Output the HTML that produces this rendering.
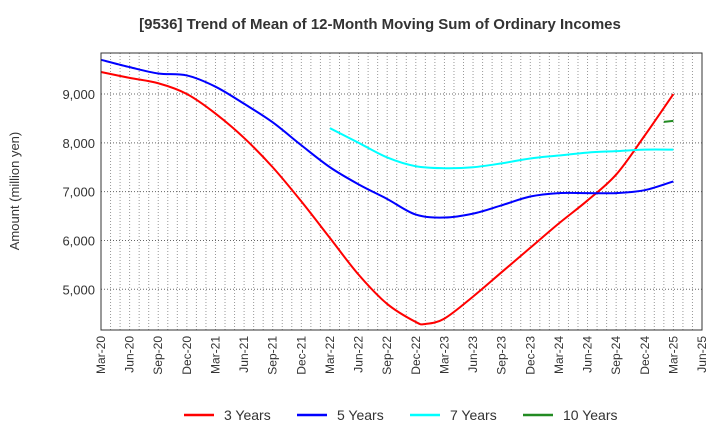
<!DOCTYPE html>
<html><head><meta charset="utf-8"><style>
body{margin:0;background:#fff;}
svg text{font-family:"Liberation Sans",Arial,sans-serif;}
</style></head><body>
<svg id="chart" width="720" height="440" xmlns="http://www.w3.org/2000/svg">
<text x="380" y="29" text-anchor="middle" font-size="15" font-weight="bold" fill="#333">[9536]  Trend of Mean of 12-Month Moving Sum of Ordinary Incomes</text>
<text transform="translate(19,191) rotate(-90)" text-anchor="middle" font-size="13" fill="#333">Amount (million yen)</text>
<g id="grid"></g><g id="series"></g><g id="axes"></g>
<g>
<g><line x1="184" y1="415" x2="214" y2="415" stroke="#ff0000" stroke-width="2.5"/><text x="224" y="420" font-size="14" fill="#333">3 Years</text></g>
<g><line x1="297" y1="415" x2="327" y2="415" stroke="#0000ff" stroke-width="2.5"/><text x="337" y="420" font-size="14" fill="#333">5 Years</text></g>
<g><line x1="410" y1="415" x2="440" y2="415" stroke="#00ffff" stroke-width="2.5"/><text x="450" y="420" font-size="14" fill="#333">7 Years</text></g>
<g><line x1="523" y1="415" x2="553" y2="415" stroke="#228b22" stroke-width="2.5"/><text x="563" y="420" font-size="14" fill="#333">10 Years</text></g>
</g>
</svg>
<script>
const xTickLabels=["Mar-20","Jun-20","Sep-20","Dec-20","Mar-21","Jun-21","Sep-21","Dec-21","Mar-22","Jun-22","Sep-22","Dec-22","Mar-23","Jun-23","Sep-23","Dec-23","Mar-24","Jun-24","Sep-24","Dec-24","Mar-25","Jun-25"];
const yTicks=[5000,6000,7000,8000,9000];
const yTickLabels=["5,000","6,000","7,000","8,000","9,000"];
const months3=[0,3,6,9,12,15,18,21,24,27,30,33,34,36,39,42,45,48,51,54,57,60];
const values3=[9450,9330,9220,9000,8600,8100,7500,6800,6050,5300,4700,4330,4290,4400,4850,5350,5850,6350,6820,7350,8150,9000];
const months5=[0,3,6,9,12,15,18,21,24,27,30,33,36,39,42,45,48,51,54,57,60];
const values5=[9700,9550,9420,9380,9150,8800,8420,7950,7500,7150,6850,6530,6470,6550,6720,6900,6970,6970,6970,7030,7210];
const months7=[24,27,30,33,36,39,42,45,48,51,54,57,60];
const values7=[8300,8000,7700,7520,7480,7500,7580,7680,7740,7800,7830,7860,7860];
const months10=[59,60];
const values10=[8430,8450];
const X0=101,X1=702,Y0=53,Y1=330,YMIN=4166,YMAX=9840,MMAX=63;
const xs=m=>X0+(X1-X0)*m/MMAX;
const ys=v=>Y1-(Y1-Y0)*(v-YMIN)/(YMAX-YMIN);
const NS="http://www.w3.org/2000/svg";
const grid=document.getElementById('grid'),axes=document.getElementById('axes'),ser=document.getElementById('series');
function mk(t,a,p){const e=document.createElementNS(NS,t);for(const k in a)e.setAttribute(k,a[k]);p.appendChild(e);return e;}
for(let m=1;m<MMAX;m++){const l=mk('line',{x1:xs(m),x2:xs(m),y1:Y0,y2:Y1,stroke:'#999','stroke-width':1,'stroke-dasharray':'1,2'},grid);

}
yTicks.forEach((v,i)=>{const l=mk('line',{x1:X0,x2:X1,y1:ys(v),y2:ys(v),stroke:'#666','stroke-width':1,'stroke-dasharray':'1,2'},grid);


const t=mk('text',{x:X0-6,y:ys(v)+5,'text-anchor':'end','font-size':13,fill:'#333'},axes);t.textContent=yTickLabels[i];

});
xTickLabels.forEach((s,i)=>{const x=xs(i*3);const t=mk('text',{transform:`translate(${x+4},336) rotate(-90)`,'text-anchor':'end','font-size':12,fill:'#333'},axes);t.textContent=s;

});
const fr=mk('rect',{x:X0,y:Y0,width:X1-X0,height:Y1-Y0,fill:'none',stroke:'#333','stroke-width':1},axes);


function path(ms,vs){const p=ms.map((m,i)=>[xs(m),ys(vs[i])]);let d=`M${p[0][0]},${p[0][1]}`;
for(let i=0;i<p.length-1;i++){const a=p[Math.max(0,i-1)],b=p[i],c=p[i+1],e=p[Math.min(p.length-1,i+2)];
d+=` C${b[0]+(c[0]-a[0])/6},${b[1]+(c[1]-a[1])/6} ${c[0]-(e[0]-b[0])/6},${c[1]-(e[1]-b[1])/6} ${c[0]},${c[1]}`;}return d;}
[[months3,values3,'#ff0000','series-3-years'],[months5,values5,'#0000ff','series-5-years'],[months7,values7,'#00ffff','series-7-years'],[months10,values10,'#228b22','series-10-years']].forEach(s=>{
const p=mk('path',{d:path(s[0],s[1]),fill:'none',stroke:s[2],'stroke-width':2},ser);

});
</script>
</body></html>
